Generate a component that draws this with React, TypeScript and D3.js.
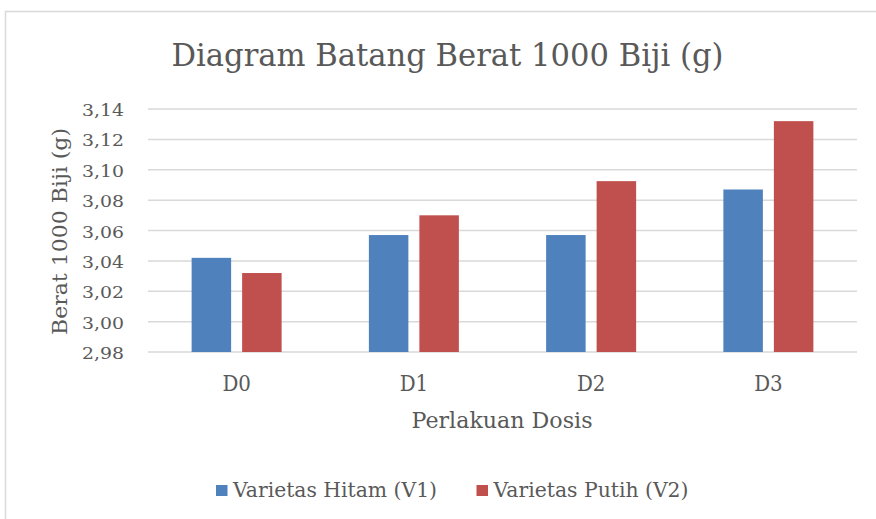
import React from "react";
import * as d3 from "d3";

const categories = ["D0", "D1", "D2", "D3"];
const seriesNames = ["Varietas Hitam (V1)", "Varietas Putih (V2)"];
const v1Values = [3.042, 3.057, 3.057, 3.087];
const v2Values = [3.032, 3.07, 3.0925, 3.132];
const yTicks = [2.98, 3.0, 3.02, 3.04, 3.06, 3.08, 3.1, 3.12, 3.14];
const colors = ["#4f81bd", "#c0504d"];

const W = 876;
const H = 519;
const FONT = "'DejaVu Serif', 'Liberation Serif', serif";
const TXT = "#595959";

export default function App() {
  const left = 148, right = 857, top = 109, bottom = 352;
  const x = d3.scaleBand<string>().domain(categories).range([left, right]).paddingInner(0).paddingOuter(0);
  const y = d3.scaleLinear().domain([2.98, 3.14]).range([bottom, top]);
  const barW = 39.5;
  const gap = 11;
  const fmt = (v: number) => v.toFixed(2).replace(".", ",");
  const series = [v1Values, v2Values];
  const legendX = [216, 476.5];
  const legendLen = [204, 195];

  return (
    <svg width={W} height={H} style={{ position: "absolute", left: 0, top: 0 }} fontFamily={FONT}>
      <rect x={0} y={0} width={W} height={H} fill="#fff" />
      <rect x={5.5} y={11.5} width={W + 10} height={H + 10} fill="#fff" stroke="#d9d9d9" strokeWidth={1.5} />
      <text x={171.5} y={66} fontSize={32.5} fill={TXT} textLength={552} lengthAdjust="spacingAndGlyphs">
        Diagram Batang Berat 1000 Biji (g)
      </text>
      {yTicks.map((t) => (
        <g key={t}>
          <line x1={left} x2={right} y1={y(t)} y2={y(t)} stroke="#d9d9d9" strokeWidth={1.5} />
          <text x={124} y={y(t) + 7} textAnchor="end" fontSize={17.5} fill={TXT} textLength={42} lengthAdjust="spacingAndGlyphs">
            {fmt(t)}
          </text>
        </g>
      ))}
      {categories.map((c, i) => {
        const cx = x(c)! + x.bandwidth() / 2;
        return (
          <g key={c}>
            {series.map((s, k) => {
              const bx = k === 0 ? cx - gap / 2 - barW : cx + gap / 2;
              return (
                <rect key={k} x={bx} y={y(s[i])} width={barW} height={y(2.98) - y(s[i])} fill={colors[k]} />
              );
            })}
            <text x={cx} y={391} textAnchor="middle" fontSize={21.5} fill={TXT} textLength={28.5} lengthAdjust="spacingAndGlyphs">
              {c}
            </text>
          </g>
        );
      })}
      <text x={502} y={428.3} textAnchor="middle" fontSize={22.5} fill={TXT} textLength={181} lengthAdjust="spacingAndGlyphs">
        Perlakuan Dosis
      </text>
      <text transform={`translate(66.7,${(128 + 335) / 2}) rotate(-90)`} textAnchor="middle" fontSize={20.5} fill={TXT} textLength={207} lengthAdjust="spacingAndGlyphs">
        Berat 1000 Biji (g)
      </text>
      {seriesNames.map((n, k) => {
        const lx = legendX[k];
        return (
          <g key={n}>
            <rect x={lx} y={485} width={11.5} height={11} fill={colors[k]} />
            <text x={lx + 17} y={496.7} fontSize={19.7} fill={TXT} textLength={legendLen[k]} lengthAdjust="spacingAndGlyphs">
              {n}
            </text>
          </g>
        );
      })}
    </svg>
  );
}
